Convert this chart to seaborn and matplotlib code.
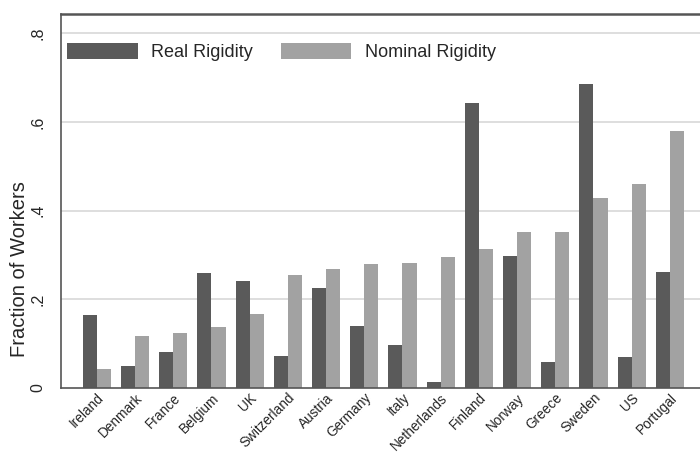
import matplotlib
matplotlib.use("Agg")
import matplotlib.pyplot as plt
import pandas as pd
import seaborn as sns

# ── Data ────────────────────────────────────────────────────────────────────
countries = ["Ireland", "Denmark", "France", "Belgium", "UK", "Switzerland",
             "Austria", "Germany", "Italy", "Netherlands", "Finland", "Norway",
             "Greece", "Sweden", "US", "Portugal"]
real_rigidity = [0.165, 0.050, 0.081, 0.259, 0.242, 0.073, 0.225, 0.139,
                 0.097, 0.013, 0.642, 0.297, 0.058, 0.685, 0.070, 0.262]
nominal_rigidity = [0.042, 0.117, 0.123, 0.137, 0.167, 0.255, 0.269, 0.280,
                    0.283, 0.295, 0.314, 0.352, 0.353, 0.428, 0.460, 0.580]
series_names = ["Real Rigidity", "Nominal Rigidity"]
y_ticks = [0, 0.2, 0.4, 0.6, 0.8]
y_tick_labels = ["0", ".2", ".4", ".6", ".8"]

DARK = "#5a5a5a"
LIGHT = "#a2a2a2"

df = pd.DataFrame({
    "country": countries * 2,
    "value": real_rigidity + nominal_rigidity,
    "series": [series_names[0]] * len(countries) + [series_names[1]] * len(countries),
})

sns.set_style("white")
plt.rcParams["font.family"] = ["Liberation Sans", "DejaVu Sans"]

fig = plt.figure(figsize=(7, 4.53), dpi=100)
ax = fig.add_axes([61 / 700, 65 / 453, 644 / 700, 374.5 / 453])

# light horizontal grid under the bars
for yv in y_ticks[1:]:
    ax.axhline(yv, color="#dedede", lw=1.4, zorder=0)

sns.barplot(data=df, x="country", y="value", hue="series",
            palette=[DARK, LIGHT], saturation=1, width=0.735, gap=0,
            linewidth=0, order=countries, hue_order=series_names,
            ax=ax, zorder=2)

ax.set_xlim(-0.94, 15.92)
ax.set_ylim(0, 0.845)
ax.set_yticks(y_ticks)
ax.set_yticklabels(y_tick_labels, rotation=90, va="center", fontsize=11.5)
ax.tick_params(axis="y", length=8, width=1, color="#555555", pad=3)
ax.tick_params(axis="x", length=0, pad=2)
ax.set_xticks(range(len(countries)))
ax.set_xticklabels(countries, rotation=45, ha="right", rotation_mode="anchor",
                   fontsize=9.8)
for lbl in ax.get_xticklabels():
    lbl.set_x(lbl.get_position()[0] + 0.06)

ax.set_xlabel("")
ax.set_ylabel("Fraction of Workers", fontsize=14.5)
ax.yaxis.set_label_coords(-0.05, 0.318)

for side in ["left", "bottom", "top"]:
    ax.spines[side].set_color("#555555")
    ax.spines[side].set_linewidth(1.2)
ax.spines["top"].set_linewidth(1.8)
ax.spines["right"].set_visible(False)

ax.legend(loc="upper left", bbox_to_anchor=(0.0095, 0.922), ncol=2,
          frameon=False, fontsize=13, handlelength=3.9, handleheight=1.0,
          handletextpad=0.76, columnspacing=1.55, borderpad=0, borderaxespad=0)

fig.savefig("out.png", dpi=100)
